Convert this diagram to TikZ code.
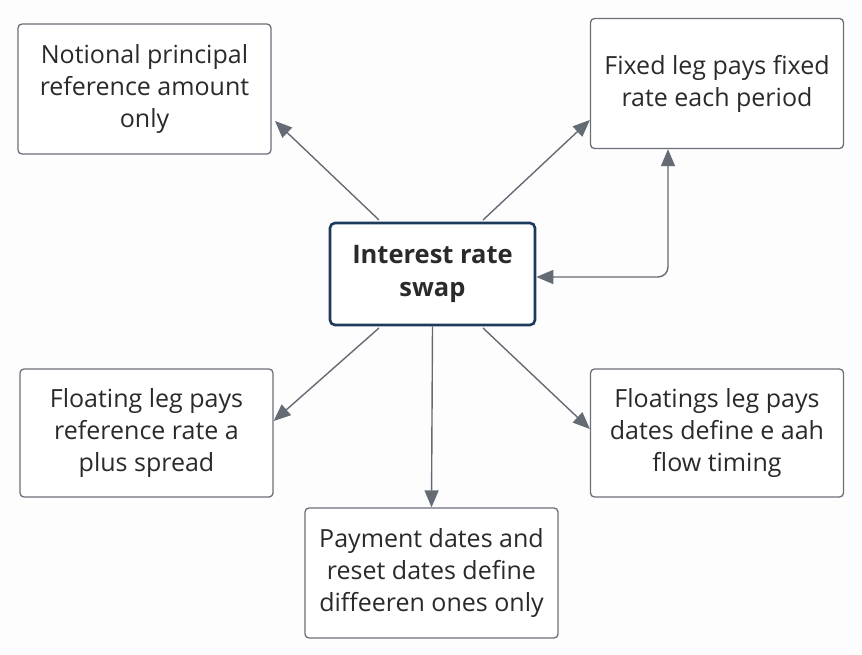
\documentclass[tikz,border=0pt]{standalone}
\usepackage{fontspec}
\setmainfont{Open Sans}
\usetikzlibrary{arrows.meta}
\definecolor{boxgray}{HTML}{6B7078}
\definecolor{arrgray}{HTML}{656B75}
\definecolor{navy}{HTML}{1B3A5C}
\definecolor{txt}{HTML}{2A2A2A}
\begin{document}
\begin{tikzpicture}[x=1pt,y=-1pt,
  box/.style={draw=boxgray,line width=1.3pt,rounded corners=4pt,fill=white,
    minimum width=253pt,minimum height=130pt,align=center,text=txt,
    font=\fontsize{25}{32}\selectfont},
  hub/.style={draw=navy,line width=2.6pt,rounded corners=5pt,fill=white,
    minimum width=205pt,minimum height=102pt,align=center,text=txt,
    font=\fontsize{25.5}{33}\selectfont\bfseries},
  conn/.style={draw=arrgray,line width=1.4pt,-{Triangle[length=17pt,width=14pt]}}]
\fill[white!98.5!gray] (0,0) rectangle (862,655);
\useasboundingbox (0,0) rectangle (862,655);
\node[hub] (c) at (432.5,274) {Interest rate\\swap};
\node[box] (n) at (144.5,89) {Notional principal\\reference amount\\only};
\node[box] (f) at (717,83.5) {Fixed leg pays fixed\\rate each period};
\node[box,minimum height=128pt] (fl) at (146.5,433) {Floating leg pays\\reference rate a\\plus spread};
\node[box,minimum height=128pt] (fr) at (717,433) {Floatings leg pays\\dates define e aah\\flow timing};
\node[box] (p) at (431.5,573) {Payment dates and\\reset dates define\\diffeeren ones only};
\coordinate (a1) at (379,220);
\coordinate (a2) at (483,220);
\coordinate (b1) at (379,328);
\coordinate (b2) at (483,328);
\draw[conn] (a1) -- (275,121) coordinate (n1);
\draw[conn] (a2) -- (f.west |- 0,120);
\draw[conn] (b1) -- (fl.east |- 0,421);
\draw[conn] (b2) -- (fr.west |- 0,429);
\draw[conn] (c.south) -- (p.north);
\draw[draw=arrgray,line width=1.4pt,{Triangle[length=17pt,width=14pt]}-{Triangle[length=17pt,width=14pt]},rounded corners=10pt]
  (c.east |- 0,277) -- (668,277) -- (668,0 |- f.south);
\end{tikzpicture}
\end{document}
